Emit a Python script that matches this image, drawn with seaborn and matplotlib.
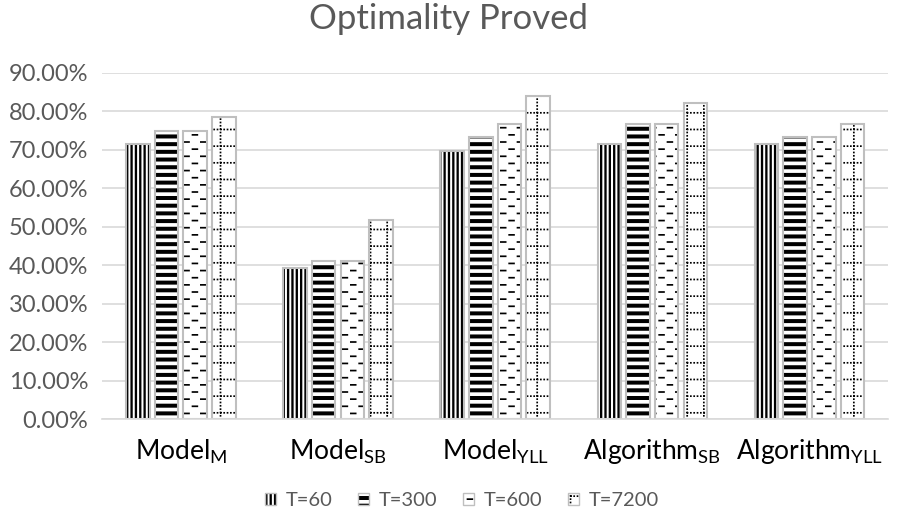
import warnings
import pandas as pd
import matplotlib
matplotlib.use('Agg')
import matplotlib.pyplot as plt
import matplotlib.hatch as mhatch
from matplotlib.path import Path
from matplotlib.patches import Patch, Rectangle
from matplotlib.legend_handler import HandlerTuple
import seaborn as sns

warnings.filterwarnings('ignore')

categories = [r'Model$_{\mathregular{M}}$', r'Model$_{\mathregular{SB}}$', r'Model$_{\mathregular{YLL}}$',
              r'Algorithm$_{\mathregular{SB}}$', r'Algorithm$_{\mathregular{YLL}}$']
t60 = [71.43, 39.29, 69.64, 71.43, 71.43]
t300 = [75.00, 41.07, 73.21, 76.79, 73.21]
t600 = [75.00, 41.07, 76.79, 76.79, 73.21]
t7200 = [78.57, 51.79, 83.93, 82.14, 76.79]
series_names = ['T=60', 'T=300', 'T=600', 'T=7200']

rows = []
for name, vals in zip(series_names, [t60, t300, t600, t7200]):
    for c, v in zip(categories, vals):
        rows.append({'cat': c, 'T': name, 'val': v / 100})
df = pd.DataFrame(rows)


# Excel-like fill patterns, built as filled rectangles inside one hatch tile
class ExcelHatch(mhatch.HatchPatternBase):
    def __init__(self, hatch, density):
        r = []
        if 'V' in hatch:  # dark vertical
            n = 23
            for i in range(n):
                x = i / n
                r.append((x, 0, x + 0.023, 1))
        if 'H' in hatch:  # wide horizontal
            n = 13
            for i in range(n):
                y = i / n
                r.append((0, y, 1, y + 0.04))
        if 'D' in hatch:  # dashed horizontal
            n, m = 14, 6
            for i in range(n):
                y = i / n
                off = 0.5 / m if i % 2 else 0
                for k in range(m):
                    x = off + k / m
                    r.append((x, y, x + 0.065, y + 0.017))
        if 'G' in hatch:  # dotted grid
            n, d = 6, 30
            for i in range(n):
                p = i / n + 0.03
                for k in range(d):
                    q = k / d
                    r.append((q, p, q + 0.017, p + 0.017))
                    r.append((p, q, p + 0.017, q + 0.017))
        self.rects = r
        self.num_lines = len(r)
        self.num_vertices = 5 * len(r)
        self.filled = True

    def set_vertices_and_codes(self, vertices, codes):
        for i, (x0, y0, x1, y1) in enumerate(self.rects):
            vertices[5 * i:5 * i + 5] = [(x0, y0), (x1, y0), (x1, y1), (x0, y1), (x0, y0)]
            codes[5 * i:5 * i + 5] = [Path.MOVETO, Path.LINETO, Path.LINETO, Path.LINETO, Path.CLOSEPOLY]


mhatch._hatch_types.append(ExcelHatch)

sns.set_style('white')
plt.rcParams['font.family'] = ['Lato', 'DejaVu Sans']
plt.rcParams['mathtext.fontset'] = 'custom'
plt.rcParams['mathtext.rm'] = 'Lato'
plt.rcParams['hatch.linewidth'] = 0.01

hatches = ['V', 'H', 'D', 'G']
edge = '#BFBFBF'
grey = '#595959'

fig = plt.figure(figsize=(8.97, 5.13), dpi=100)
ax = fig.add_axes([0.114, 0.183, 0.876, 0.675])

sns.barplot(data=df, x='cat', y='val', hue='T', palette=['white'] * 4,
            edgecolor='black', linewidth=0, width=0.73, gap=0.18, ax=ax, legend=False)

# hatch takes the edge colour, so draw the grey outline on top
for cont, h in zip(ax.containers, hatches):
    for bar in cont:
        bar.set_hatch(h)
        ax.add_patch(Rectangle(bar.get_xy(), bar.get_width(), bar.get_height(),
                               fill=False, edgecolor=edge, linewidth=1.5, zorder=bar.get_zorder() + 0.1))

ax.set_ylim(0, 0.9)
ax.set_yticks([i / 10 for i in range(10)])
ax.set_yticklabels([f'{i * 10:.2f}%' for i in range(10)], fontsize=17, color=grey)
ax.tick_params(axis='x', labelsize=19, colors='black', pad=13, length=0)
ax.tick_params(axis='y', length=0, pad=10)
ax.set_xlabel('')
ax.set_ylabel('')
ax.yaxis.grid(True, color='#D9D9D9', linewidth=1.2)
ax.set_axisbelow(True)
for s in ['top', 'right', 'left']:
    ax.spines[s].set_visible(False)
ax.spines['bottom'].set_color('#D9D9D9')
ax.spines['bottom'].set_linewidth(1.2)

fig.suptitle('Optimality Proved', fontsize=25, color=grey, y=0.995)

handles = [(Patch(facecolor='white', edgecolor='black', linewidth=0, hatch=h),
            Patch(fill=False, edgecolor=edge, linewidth=1)) for h in hatches]
fig.legend(handles, series_names, handler_map={tuple: HandlerTuple(ndivide=1)},
           loc='lower center', ncol=4, frameon=False,
           bbox_to_anchor=(0.515, -0.028), fontsize=14.5, handlelength=0.55, handleheight=0.55,
           handletextpad=0.45, columnspacing=1.3, labelcolor=grey)

fig.savefig('out.png', dpi=100)
